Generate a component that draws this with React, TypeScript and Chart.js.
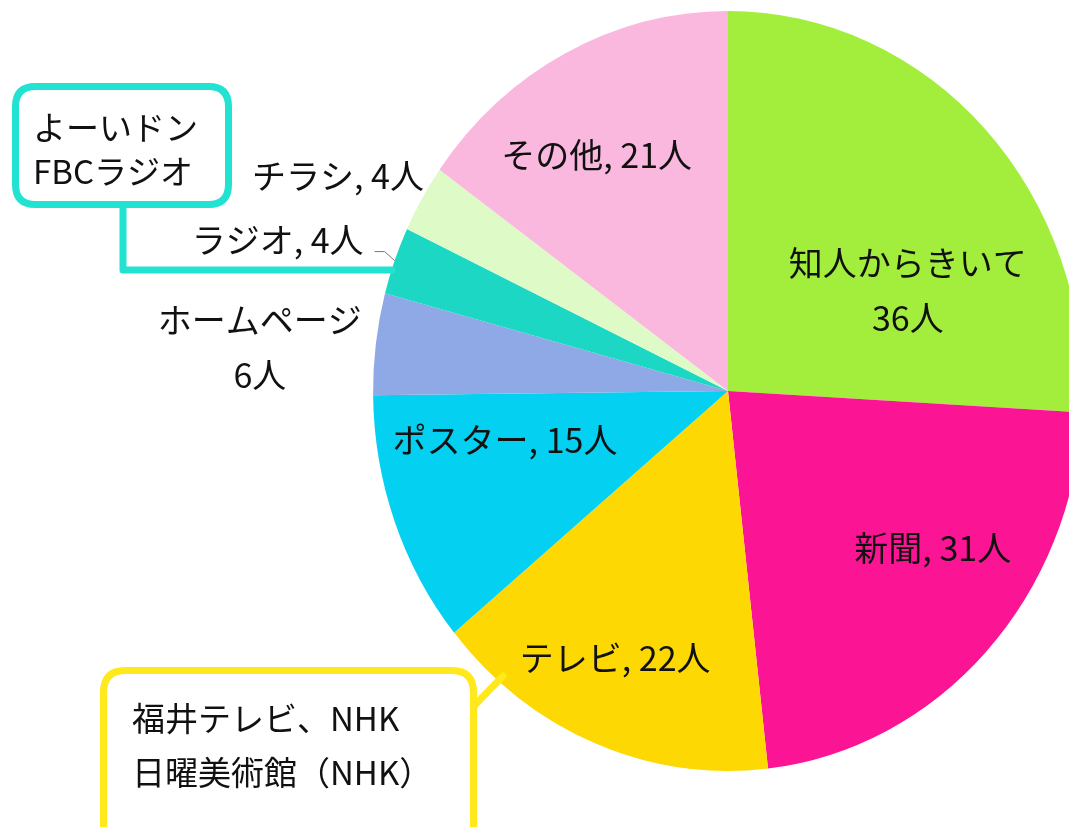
import React, { useEffect, useRef } from 'react';
import { Chart, registerables } from 'chart.js';

Chart.register(...registerables);

// ---- data ----
const categories = ['知人からきいて', '新聞', 'テレビ', 'ポスター', 'ホームページ', 'ラジオ', 'チラシ', 'その他'];
const counts = [36, 31, 22, 15, 6, 4, 4, 21];
const sliceColors = ['#A3EE3D', '#FB1594', '#FDD803', '#04D0F2', '#8FA9E6', '#1CD7C3', '#DEFBC7', '#FBB8DE'];
// two-line labels (name on first line, count on second)
const twoLine = [true, false, false, false, true, false, false, false];
const unit = '人';

// ---- label layout (anchor radius fraction, pixel offsets from anchor) ----
const labelRadius = [0.6, 0.6, 0.6, 0.6, 1, 1, 1, 0.6];
const labelOffset: [number, number][] = [
  [25, 56], [50, 0], [-33, 56], [-23, -29], [-116, 3], [-117, -21], [-84, -22], [-34, -33],
];

const SX = 0.934; // horizontal squash of the pie (ellipse)
const FONT = '"Noto Sans CJK JP", "Noto Sans", sans-serif';

const ellipsePlugin = {
  id: 'ellipse',
  beforeDatasetsDraw(chart: any) {
    const { ctx, chartArea } = chart;
    const cx = (chartArea.left + chartArea.right) / 2;
    const cy = (chartArea.top + chartArea.bottom) / 2;
    ctx.save();
    ctx.translate(cx, cy);
    ctx.scale(SX, 1);
    ctx.translate(-cx, -cy);
  },
  afterDatasetsDraw(chart: any) {
    chart.ctx.restore();
  },
};

const labelPlugin = {
  id: 'sliceLabels',
  afterDraw(chart: any) {
    const { ctx } = chart;
    const meta = chart.getDatasetMeta(0);
    ctx.save();
    ctx.fillStyle = '#111';
    ctx.textAlign = 'center';
    ctx.textBaseline = 'middle';
    ctx.font = `34px ${FONT}`;
    meta.data.forEach((arc: any, i: number) => {
      const p = arc.getProps(['x', 'y', 'startAngle', 'endAngle', 'outerRadius'], true);
      const mid = (p.startAngle + p.endAngle) / 2;
      const r = p.outerRadius * labelRadius[i];
      const ax = p.x + SX * r * Math.cos(mid);
      const ay = p.y + r * Math.sin(mid);
      const x = ax + labelOffset[i][0];
      const y = ay + labelOffset[i][1];
      const val = counts[i] + unit;
      if (twoLine[i]) {
        ctx.fillText(categories[i], x, y - 27);
        ctx.fillText(val, x, y + 28);
      } else {
        ctx.fillText(`${categories[i]}, ${val}`, x, y);
      }
      if (categories[i] === 'ラジオ') {
        // small leader line
        const ex = p.x + SX * p.outerRadius * Math.cos(mid);
        const ey = p.y + p.outerRadius * Math.sin(mid);
        ctx.strokeStyle = '#777';
        ctx.lineWidth = 1;
        ctx.beginPath();
        ctx.moveTo(ex, ey);
        ctx.lineTo(ex - 10, ey - 9);
        ctx.lineTo(ex - 20, ey - 9);
        ctx.stroke();
      }
    });
    ctx.restore();
  },
};

function roundRect(ctx: CanvasRenderingContext2D, x: number, y: number, w: number, h: number, r: number) {
  ctx.beginPath();
  ctx.moveTo(x + r, y);
  ctx.lineTo(x + w - r, y);
  ctx.quadraticCurveTo(x + w, y, x + w, y + r);
  ctx.lineTo(x + w, y + h - r);
  ctx.quadraticCurveTo(x + w, y + h, x + w - r, y + h);
  ctx.lineTo(x + r, y + h);
  ctx.quadraticCurveTo(x, y + h, x, y + h - r);
  ctx.lineTo(x, y + r);
  ctx.quadraticCurveTo(x, y, x + r, y);
  ctx.closePath();
}

const calloutPlugin = {
  id: 'callouts',
  afterDraw(chart: any) {
    const { ctx } = chart;
    ctx.save();
    ctx.lineWidth = 7;
    ctx.lineJoin = 'round';
    ctx.lineCap = 'round';
    // teal callout (radio)
    ctx.strokeStyle = '#22E2D2';
    ctx.beginPath();
    ctx.moveTo(123, 208);
    ctx.lineTo(123, 270);
    ctx.lineTo(392, 270);
    ctx.stroke();
    ctx.fillStyle = '#fff';
    roundRect(ctx, 15.5, 86.5, 213, 118, 20);
    ctx.fill();
    ctx.stroke();
    // yellow callout (TV)
    ctx.strokeStyle = '#FFE91C';
    ctx.beginPath();
    ctx.moveTo(470, 710);
    ctx.lineTo(503, 676);
    ctx.stroke();
    roundRect(ctx, 103.5, 670.5, 370, 190, 22);
    ctx.fill();
    ctx.stroke();

    ctx.fillStyle = '#111';
    ctx.textAlign = 'left';
    ctx.textBaseline = 'middle';
    ctx.font = `33px ${FONT}`;
    ctx.fillText('よーいドン', 33, 127);
    ctx.fillText('FBCラジオ', 33, 171);
    ctx.fillText('福井テレビ、NHK', 132, 718);
    ctx.fillText('日曜美術館（NHK）', 132, 772);
    ctx.restore();
  },
};

export default function App() {
  const ref = useRef<HTMLCanvasElement>(null);
  useEffect(() => {
    if (!ref.current) return;
    const chart = new Chart(ref.current, {
      type: 'pie',
      data: {
        labels: categories,
        datasets: [{ data: counts, backgroundColor: sliceColors, borderWidth: 0 }],
      },
      options: {
        responsive: false,
        animation: false,
        layout: { padding: { left: 348, top: 11, right: 12, bottom: 56 } },
        plugins: { legend: { display: false }, tooltip: { enabled: false } },
      },
      plugins: [ellipsePlugin, labelPlugin, calloutPlugin],
    });
    return () => chart.destroy();
  }, []);
  return (
    <div style={{ position: 'absolute', left: 0, top: 0, width: 1069, height: 827, overflow: 'hidden', background: '#fff' }}>
      <canvas ref={ref} width={1120} height={827} style={{ display: 'block' }} />
    </div>
  );
}
